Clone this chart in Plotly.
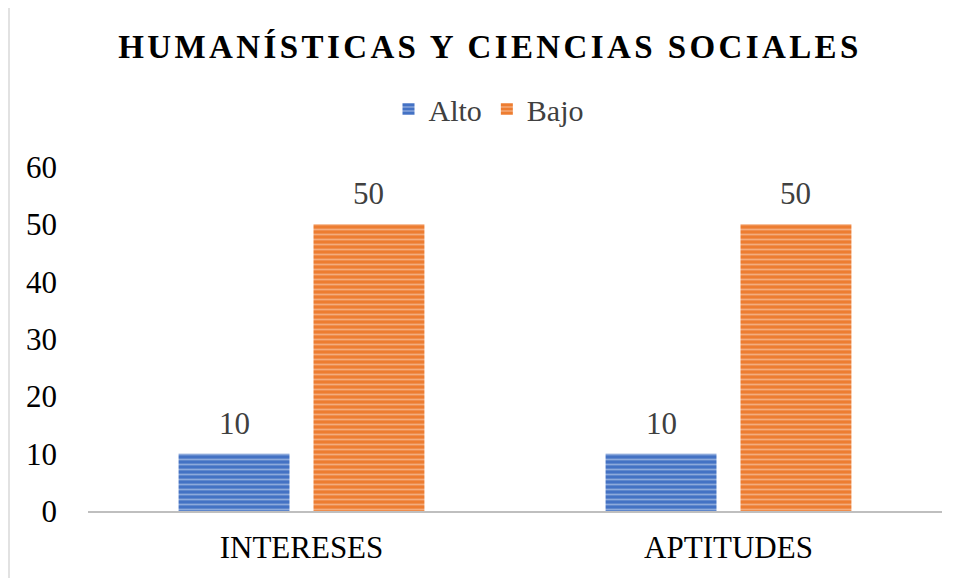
import plotly.graph_objects as go

categories = ["INTERESES", "APTITUDES"]
alto = [10, 10]
bajo = [50, 50]
y_ticks = [0, 10, 20, 30, 40, 50, 60]
title_text = "HUMANÍSTICAS Y CIENCIAS SOCIALES"

FONT = "Liberation Serif"
TXT = "#404040"

# page body has an 8px margin; figure coordinates are offset accordingly
OFF = 8
W, H = 955, 570
L, T = 88 - OFF, 167 - OFF
R = W - (942 - OFF)
B = H - (511 - OFF)
pw = W - L - R
ph = H - T - B

BARGAP = 0.368
GROUPGAP = 0.178

fig = go.Figure()
fig.add_trace(go.Bar(
    x=categories, y=alto, name="Alto",
    marker=dict(color="#4472C4", line=dict(width=0),
                pattern=dict(shape="-", fgcolor="#D6E0F2", size=5, solidity=0.35)),
))
fig.add_trace(go.Bar(
    x=categories, y=bajo, name="Bajo",
    marker=dict(color="#ED7D31", line=dict(width=0),
                pattern=dict(shape="-", fgcolor="#FBDCC8", size=5, solidity=0.35)),
))

# value labels placed above each bar (offset by half a group slot)
cat_px = pw / len(categories)
slot_px = cat_px * (1 - BARGAP) / 2
annotations = []
for series, shift in ((alto, -slot_px / 2), (bajo, slot_px / 2)):
    for c, v in zip(categories, series):
        annotations.append(dict(
            x=c, y=v, xref="x", yref="y", text=str(v), showarrow=False,
            xanchor="center", yanchor="bottom", xshift=shift, yshift=11,
            font=dict(family=FONT, size=31, color=TXT)))

fig.update_layout(
    width=W, height=H,
    margin=dict(l=L, r=R, t=T, b=B, pad=0),
    paper_bgcolor="white", plot_bgcolor="white",
    barmode="group", bargap=BARGAP, bargroupgap=GROUPGAP,
    font=dict(family=FONT, size=30, color=TXT),
    title=dict(text="<b><span style='letter-spacing:3.4px'>" + title_text + "</span></b>",
               x=(490 - OFF) / W, xanchor="center", y=1 - (46 - OFF) / H, yanchor="middle",
               yref="container",
               font=dict(family=FONT, size=33, color="#000000")),
    legend=dict(orientation="h", x=(489 - OFF - L) / pw, xanchor="center",
                y=((511 - OFF) - (109 - OFF)) / ph, yanchor="middle",
                font=dict(family=FONT, size=30, color=TXT), traceorder="normal",
                itemwidth=30, bgcolor="rgba(0,0,0,0)"),
    showlegend=True,
    annotations=annotations,
    xaxis=dict(showgrid=False, showline=True, linecolor="#BFBFBF", linewidth=2,
               ticks="", ticklabelstandoff=8,
               tickfont=dict(family=FONT, size=31, color="#000000"),
               zeroline=False),
    yaxis=dict(range=[0, 60], tickvals=y_ticks, showgrid=False, showline=False,
               zeroline=False, ticks="", ticklabelstandoff=30,
               tickfont=dict(family=FONT, size=31, color="#000000")),
    shapes=[dict(type="rect", xref="paper", yref="paper",
                 x0=(9 - OFF - L) / pw, x1=(975 - OFF - L) / pw,
                 y0=((511 - OFF) - (600 - OFF)) / ph, y1=((511 - OFF) - (7 - OFF)) / ph,
                 line=dict(color="#D9D9D9", width=1.5), fillcolor="rgba(0,0,0,0)",
                 layer="below")],
)

fig.write_html("out.html")
